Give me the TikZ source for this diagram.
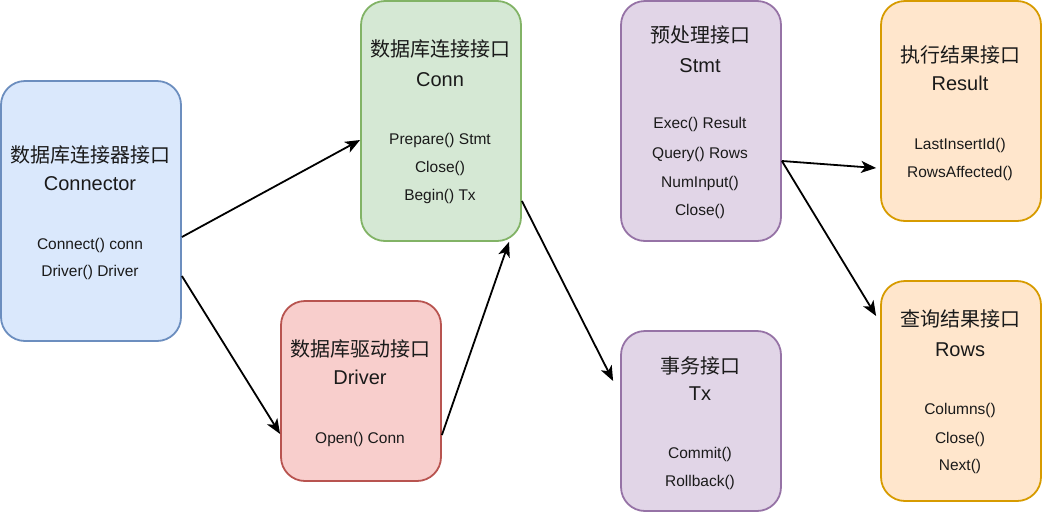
\documentclass[tikz,border=0pt]{standalone}
\usepackage{fontspec}
\setmainfont{Liberation Sans}
\newfontfamily\cjk{Noto Sans CJK SC}
\usetikzlibrary{arrows.meta}
\definecolor{bfill}{HTML}{DAE8FC}\definecolor{bline}{HTML}{6C8EBF}
\definecolor{gfill}{HTML}{D5E8D4}\definecolor{gline}{HTML}{82B366}
\definecolor{rfill}{HTML}{F8CECC}\definecolor{rline}{HTML}{B85450}
\definecolor{pfill}{HTML}{E1D5E7}\definecolor{pline}{HTML}{9673A6}
\definecolor{ofill}{HTML}{FFE6CC}\definecolor{oline}{HTML}{D79B00}
\definecolor{txt}{HTML}{1A1A1A}
\tikzset{
  box/.style={draw, rounded corners=24pt, line width=1.8pt, inner sep=0pt},
  ttl/.style={anchor=center, yshift=-3.5pt, inner sep=0pt, text height=0.72em, text depth=0pt, text=txt, font=\fontsize{20}{24}\selectfont},
  mth/.style={anchor=center, yshift=-2.5pt, inner sep=0pt, text height=0.72em, text depth=0pt, text=txt, font=\fontsize{15.5}{18}\selectfont},
  link/.style={draw=black, line width=1.8pt, -{Stealth[length=15pt, width=12pt, inset=4pt]}}
}
\begin{document}
\begin{tikzpicture}[x=1pt, y=-1pt]
\useasboundingbox (0,0) rectangle (1042,512);
% boxes
\node[box, fill=bfill, draw=bline, minimum width=180pt, minimum height=260pt] (connector) at (91,211) {};
\node[box, fill=gfill, draw=gline, minimum width=160pt, minimum height=240pt] (conn) at (441,121) {};
\node[box, fill=rfill, draw=rline, minimum width=160pt, minimum height=180pt] (driver) at (361,391) {};
\node[box, fill=pfill, draw=pline, minimum width=160pt, minimum height=240pt] (stmt) at (701,121) {};
\node[box, fill=pfill, draw=pline, minimum width=160pt, minimum height=180pt] (tx) at (701,421) {};
\node[box, fill=ofill, draw=oline, minimum width=160pt, minimum height=220pt] (result) at (961,111) {};
\node[box, fill=ofill, draw=oline, minimum width=160pt, minimum height=220pt] (rows) at (961,391) {};
% connector texts
\node[ttl] (connector-t1) at (90,155) {\cjk 数据库连接器接口};
\node[ttl] (connector-t2) at (90,183) {Connector};
\node[mth] (connector-m1) at (90,243) {Connect() conn};
\node[mth] (connector-m2) at (90,270) {Driver() Driver};
% conn texts
\node[ttl] (conn-t1) at (440,49) {\cjk 数据库连接接口};
\node[ttl] (conn-t2) at (440,79) {Conn};
\node[mth] (conn-m1) at (440,138) {Prepare() Stmt};
\node[mth] (conn-m2) at (440,166) {Close()};
\node[mth] (conn-m3) at (440,194) {Begin() Tx};
% driver texts
\node[ttl] (driver-t1) at (360,349) {\cjk 数据库驱动接口};
\node[ttl] (driver-t2) at (360,377) {Driver};
\node[mth] (driver-m1) at (360,437) {Open() Conn};
% stmt texts
\node[ttl] (stmt-t1) at (700,35) {\cjk 预处理接口};
\node[ttl] (stmt-t2) at (700,65) {Stmt};
\node[mth] (stmt-m1) at (700,122) {Exec() Result};
\node[mth] (stmt-m2) at (700,152) {Query() Rows};
\node[mth] (stmt-m3) at (700,181) {NumInput()};
\node[mth] (stmt-m4) at (700,209) {Close()};
% tx texts
\node[ttl] (tx-t1) at (700,366) {\cjk 事务接口};
\node[ttl] (tx-t2) at (700,393) {Tx};
\node[mth] (tx-m1) at (700,452) {Commit()};
\node[mth] (tx-m2) at (700,480) {Rollback()};
% result texts
\node[ttl] (result-t1) at (960,55) {\cjk 执行结果接口};
\node[ttl] (result-t2) at (960,83) {Result};
\node[mth] (result-m1) at (960,143) {LastInsertId()};
\node[mth] (result-m2) at (960,171) {RowsAffected()};
% rows texts
\node[ttl] (rows-t1) at (960,319) {\cjk 查询结果接口};
\node[ttl] (rows-t2) at (960,349) {Rows};
\node[mth] (rows-m1) at (960,408) {Columns()};
\node[mth] (rows-m2) at (960,437) {Close()};
\node[mth] (rows-m3) at (960,464) {Next()};
% connectors
\draw[link] ([yshift=-26pt]connector.east) -- ([yshift=-19pt]conn.west);
\draw[link] ([yshift=-65pt]connector.east) -- ([yshift=-43pt]driver.west);
\draw[link] ([yshift=-44pt]driver.east) -- ([xshift=68pt]conn.south);
\draw[link] ([yshift=-80pt]conn.east) -- ([xshift=-7pt,yshift=40pt]tx.west);
\draw[link] ([yshift=-40pt]stmt.east) -- ([xshift=-4pt,yshift=-57pt]result.west);
\draw[link] ([yshift=-40pt]stmt.east) -- ([xshift=-4pt,yshift=75pt]rows.west);
\end{tikzpicture}
\end{document}
